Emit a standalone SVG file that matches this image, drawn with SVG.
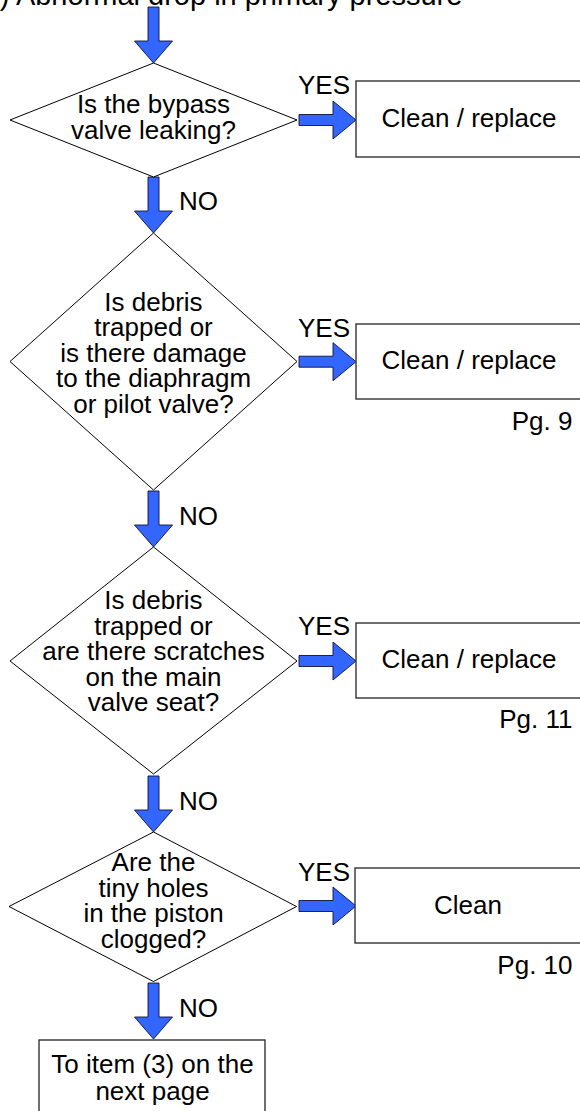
<svg xmlns="http://www.w3.org/2000/svg" xmlns:xlink="http://www.w3.org/1999/xlink" width="580" height="1111" viewBox="0 0 580 1111">
  <style>
    text { font-family: "Liberation Sans", Arial, sans-serif; font-size: 26px; fill: #000; }
    .c { text-anchor: middle; }
    .r { text-anchor: end; }
    .dia { fill: #fff; stroke: #000; stroke-width: 1; }
    .box { fill: #fff; stroke: #333; stroke-width: 1.4; }
    .arr { fill: #3366ff; stroke: #111133; stroke-width: 0.9; stroke-linejoin: miter; }
    .title { font-size: 29px; }
  </style>
  <defs>
    <path id="arrDown" d="M-5.5,-56 H5.5 V-22 H19 L0,0 L-19,-22 H-5.5 Z"/>
    <path id="arrRight" d="M-57,-5.5 H-23 V-19 L0,0 L-23,19 V5.5 H-57 Z"/>
  </defs>

  <g id="title">
    <text x="-26" y="5" class="title">(2) Abnormal drop in primary pressure</text>
  </g>

  <g id="connectors">
    <use xlink:href="#arrDown" href="#arrDown" class="arr" x="153.5" y="63"/>
    <use xlink:href="#arrDown" href="#arrDown" class="arr" x="153.5" y="233"/>
    <use xlink:href="#arrDown" href="#arrDown" class="arr" x="153.5" y="547"/>
    <use xlink:href="#arrDown" href="#arrDown" class="arr" x="153.5" y="832"/>
    <use xlink:href="#arrDown" href="#arrDown" class="arr" x="153.5" y="1039"/>
    <use xlink:href="#arrRight" href="#arrRight" class="arr" x="356" y="120"/>
    <use xlink:href="#arrRight" href="#arrRight" class="arr" x="356" y="361.7"/>
    <use xlink:href="#arrRight" href="#arrRight" class="arr" x="356" y="661"/>
    <use xlink:href="#arrRight" href="#arrRight" class="arr" x="356" y="906"/>
    <text x="298" y="94">YES</text>
    <text x="298" y="336.7">YES</text>
    <text x="298" y="635">YES</text>
    <text x="298" y="880.7">YES</text>
    <text x="179" y="210">NO</text>
    <text x="179" y="525">NO</text>
    <text x="179" y="810">NO</text>
    <text x="179" y="1017">NO</text>
  </g>

  <g id="q1">
    <polygon class="dia" points="153.5,63 297,120 153.5,177 10,120"/>
    <text class="c" x="153.5" y="113">Is the bypass</text>
    <text class="c" x="153.5" y="139">valve leaking?</text>
  </g>

  <g id="a1">
    <rect class="box" x="356" y="81" width="240" height="76"/>
    <text class="c" x="469" y="127">Clean / replace</text>
  </g>

  <g id="q2">
    <polygon class="dia" points="153.5,233 297,361.5 153.5,490 10,361.5"/>
    <text class="c" x="153.5" y="310.7">Is debris</text>
    <text class="c" x="153.5" y="336.2">trapped or</text>
    <text class="c" x="153.5" y="361.7">is there damage</text>
    <text class="c" x="153.5" y="387.2">to the diaphragm</text>
    <text class="c" x="153.5" y="412.7">or pilot valve?</text>
  </g>

  <g id="a2">
    <rect class="box" x="356" y="324" width="240" height="75"/>
    <text class="c" x="469" y="369">Clean / replace</text>
    <text class="r" x="572.5" y="429.5">Pg. 9</text>
  </g>

  <g id="q3">
    <polygon class="dia" points="153.5,547 297,661 153.5,774 10,661"/>
    <text class="c" x="153.5" y="609">Is debris</text>
    <text class="c" x="153.5" y="634.6">trapped or</text>
    <text class="c" x="153.5" y="660.2">are there scratches</text>
    <text class="c" x="153.5" y="685.8">on the main</text>
    <text class="c" x="153.5" y="711.4">valve seat?</text>
  </g>

  <g id="a3">
    <rect class="box" x="356" y="623" width="240" height="75"/>
    <text class="c" x="469" y="668">Clean / replace</text>
    <text class="r" x="572.5" y="728">Pg. 11</text>
  </g>

  <g id="q4">
    <polygon class="dia" points="153.5,832 296.5,906.5 153.5,981.5 9,906.5"/>
    <text class="c" x="153.5" y="871">Are the</text>
    <text class="c" x="153.5" y="896.5">tiny holes</text>
    <text class="c" x="153.5" y="922">in the piston</text>
    <text class="c" x="153.5" y="947.5">clogged?</text>
  </g>

  <g id="a4">
    <rect class="box" x="355" y="868" width="241" height="75"/>
    <text class="c" x="468" y="914">Clean</text>
    <text class="r" x="572.5" y="974">Pg. 10</text>
  </g>

  <g id="next">
    <rect class="box" x="39" y="1040" width="226" height="90"/>
    <text class="c" x="152.5" y="1073">To item (3) on the</text>
    <text class="c" x="152.5" y="1100">next page</text>
  </g>
</svg>
